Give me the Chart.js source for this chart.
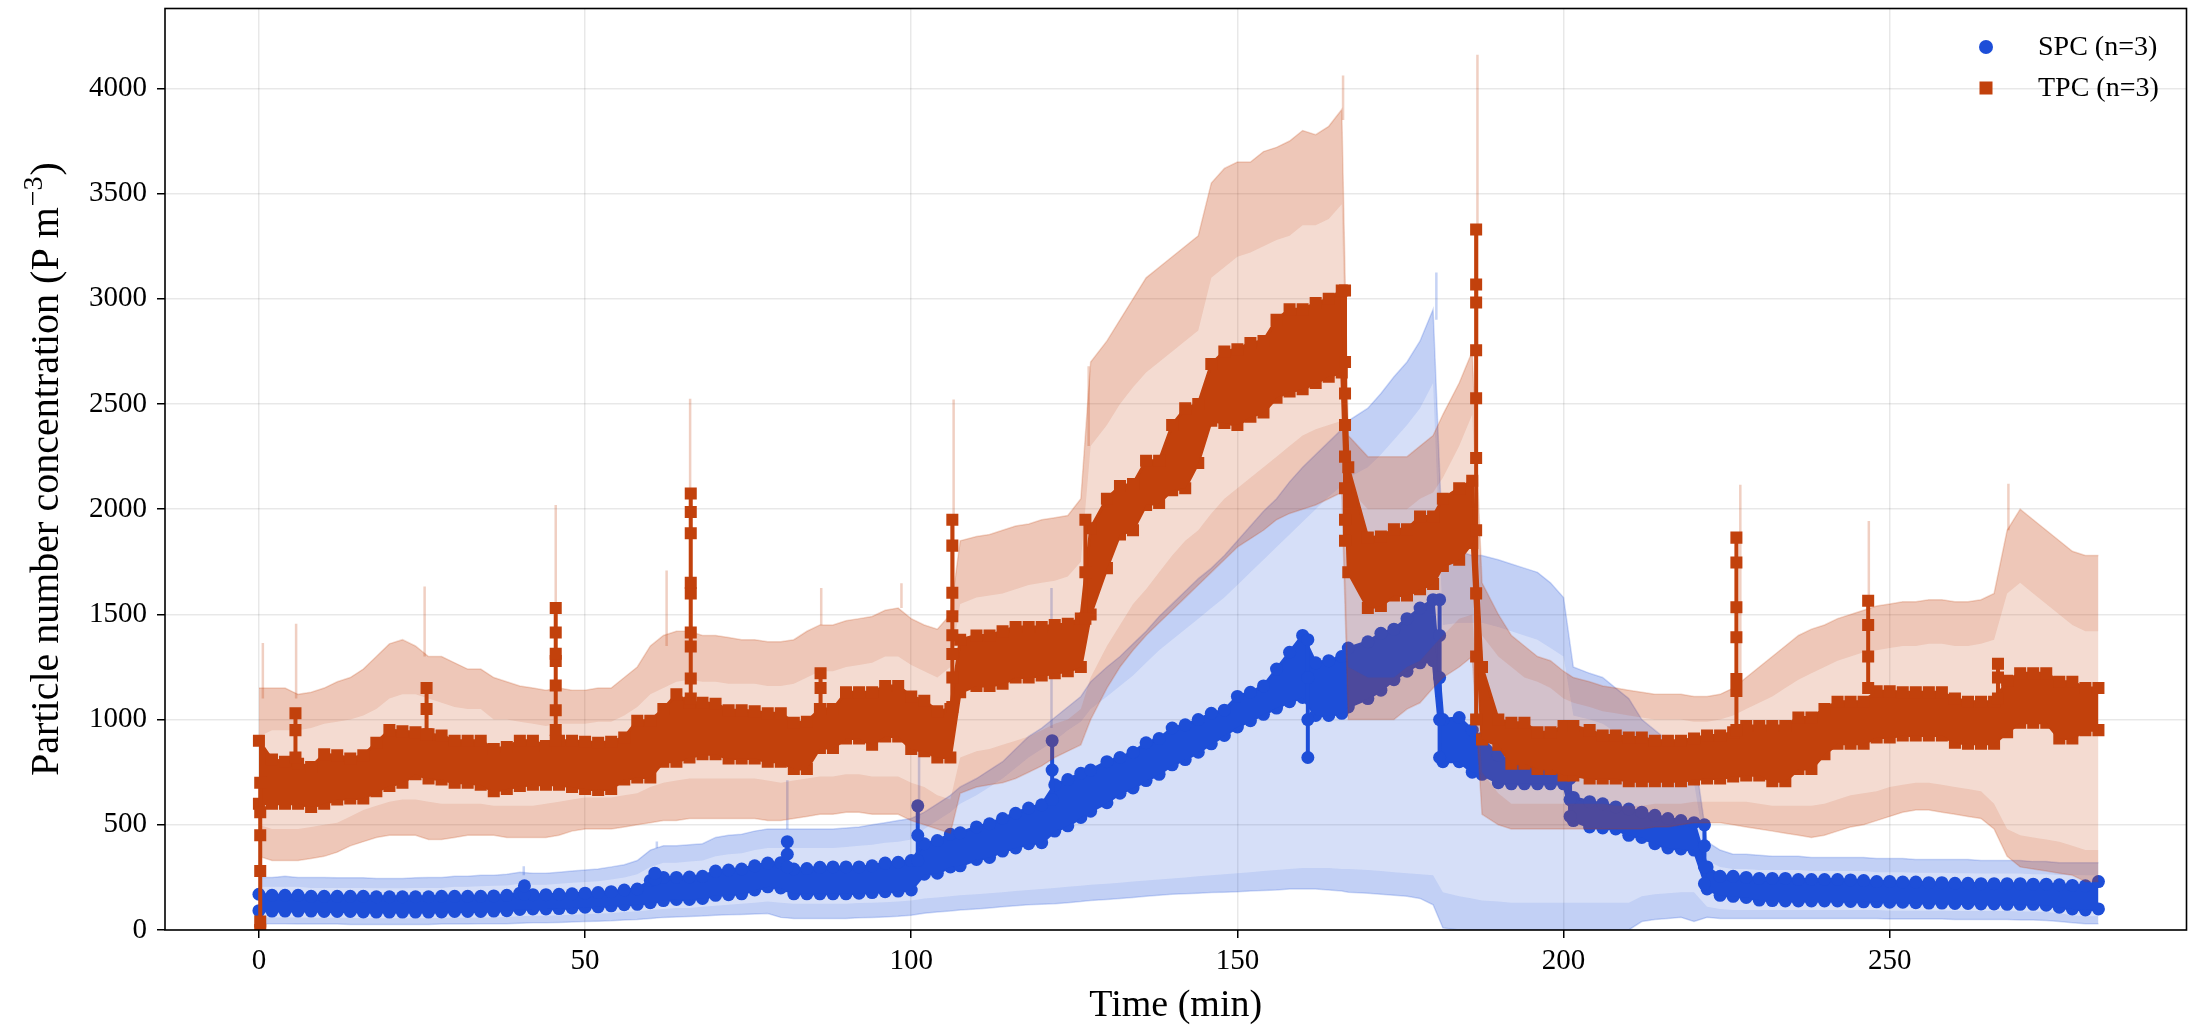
<!DOCTYPE html>
<html>
<head>
<meta charset="utf-8">
<script src="https://cdn.jsdelivr.net/npm/chart.js@4.4.1/dist/chart.umd.min.js"></script>
<style>
  html, body { margin: 0; padding: 0; background: #fff; }
  #c { display: block; }
</style>
</head>
<body>
<canvas id="c" width="2195" height="1026"></canvas>
<script>
// time axis, minutes (about 2-min sampling, denser right after the jumps)
const TIME = [
  0, 2, 4, 6, 8, 10, 12, 14, 16, 18,
  20, 22, 24, 26, 28, 30, 32, 34, 36, 38,
  40, 42, 44, 46, 48, 50, 52, 54, 56, 58,
  60, 62, 64, 66, 68, 70, 72, 74, 76, 78,
  80, 82, 84, 86, 88, 90, 92, 94, 96, 98,
  100, 102, 104, 106, 107.5, 110, 112, 114, 116, 118,
  120, 122, 124, 126, 127.5, 130, 132, 134, 136, 138,
  140, 142, 144, 146, 148, 150, 152, 154, 156, 158,
  160, 162, 164, 166, 167, 170, 172, 174, 176, 178,
  180, 181.5, 184, 186, 187.5, 190, 192, 194, 196, 198,
  200, 201.5, 204, 206, 208, 210, 212, 214, 216, 218,
  220, 222, 224, 226, 228, 230, 232, 234, 236, 238,
  240, 242, 244, 246, 248, 250, 252, 254, 256, 258,
  260, 262, 264, 266, 268, 270, 272, 274, 276, 278,
  280, 282
];

const X_TICKS = [0, 50, 100, 150, 200, 250];
const Y_TICKS = [0, 500, 1000, 1500, 2000, 2500, 3000, 3500, 4000];

// SPC: spread of the mean markers (upper / lower edge)
const spcHi = [
  170, 165, 165, 165, 160, 160, 160, 160, 160, 158,
  158, 158, 158, 158, 160, 160, 160, 160, 162, 165,
  175, 168, 168, 170, 172, 175, 178, 182, 190, 195,
  235, 250, 250, 252, 255, 280, 285, 290, 305, 318,
  320, 290, 292, 298, 300, 300, 300, 305, 318, 322,
  330, 410, 425, 455, 462, 490, 505, 530, 555, 580,
  595, 690, 715, 745, 760, 800, 820, 845, 890, 910,
  960, 975, 1000, 1030, 1045, 1110, 1130, 1160, 1240, 1320,
  1400, 1270, 1280, 1300, 1340, 1370, 1410, 1430, 1480, 1530,
  1570, 1000, 1010, 950, 910, 830, 800, 790, 770, 755,
  745, 630, 610, 600, 585, 575, 560, 545, 530, 520,
  510, 300, 255, 255, 250, 245, 245, 245, 240, 240,
  240, 240, 238, 235, 230, 230, 228, 228, 225, 225,
  222, 222, 220, 220, 220, 220, 218, 218, 215, 212,
  210, 230
];
const spcLo = [
  92, 90, 90, 90, 90, 88, 88, 88, 86, 85,
  85, 85, 85, 85, 86, 88, 88, 88, 90, 92,
  98, 100, 100, 102, 105, 108, 110, 115, 120, 122,
  130, 140, 145, 145, 150, 165, 168, 172, 190, 205,
  200, 172, 172, 172, 172, 172, 175, 178, 182, 185,
  190, 265, 270, 300, 305, 335, 345, 375, 390, 410,
  415, 470, 495, 535, 565, 605, 650, 675, 710, 740,
  785, 810, 845, 885, 925, 965, 995, 1025, 1055, 1085,
  1105, 1020, 1020, 1030, 1060, 1100, 1140, 1190, 1230, 1270,
  1280, 800, 800, 750, 740, 700, 695, 695, 695, 695,
  695, 520, 490, 485, 480, 450, 440, 410, 390, 385,
  380, 195, 165, 160, 155, 142, 140, 138, 138, 138,
  138, 138, 136, 134, 134, 132, 132, 130, 128, 128,
  126, 126, 124, 124, 122, 122, 122, 118, 108, 100,
  95, 100
];
// SPC spread band: outer and inner edge of the noisy upper / lower bound
const spcUpOut = [
  250, 250, 255, 250, 250, 250, 248, 248, 248, 245,
  245, 245, 248, 250, 250, 255, 255, 260, 260, 265,
  275, 270, 270, 275, 280, 285, 290, 300, 310, 330,
  380, 400, 400, 405, 410, 440, 450, 455, 470, 480,
  480, 480, 480, 480, 480, 485, 490, 500, 510, 520,
  530, 560, 600, 640, 680, 720, 760, 800, 860, 920,
  960, 1010, 1060, 1110, 1180, 1250, 1300, 1360, 1420, 1490,
  1550, 1610, 1670, 1720, 1780, 1850, 1920, 1990, 2050, 2130,
  2200, 2260, 2320, 2380, 2420, 2480, 2550, 2630, 2700, 2800,
  2950, 1800, 1800, 1780, 1780, 1760, 1740, 1720, 1700, 1650,
  1580, 1250, 1220, 1200, 1150, 1100, 1000, 950, 900, 870,
  850, 420, 380, 360, 360, 355, 350, 350, 350, 345,
  345, 345, 345, 345, 340, 340, 340, 335, 335, 335,
  335, 335, 330, 330, 330, 330, 325, 325, 320, 320,
  320, 320
];
const spcUpIn = [
  205, 205, 205, 205, 200, 200, 200, 200, 200, 198,
  198, 198, 200, 200, 200, 205, 205, 208, 210, 212,
  220, 215, 215, 220, 225, 228, 232, 240, 250, 265,
  300, 320, 320, 325, 330, 350, 360, 365, 380, 390,
  390, 390, 390, 390, 390, 395, 400, 405, 415, 420,
  430, 480, 520, 560, 600, 640, 680, 720, 770, 820,
  860, 900, 950, 990, 1050, 1110, 1160, 1210, 1270, 1330,
  1380, 1430, 1480, 1530, 1580, 1640, 1700, 1760, 1820, 1880,
  1940, 2000, 2060, 2110, 2150, 2200, 2260, 2330, 2400, 2480,
  2600, 1450, 1460, 1460, 1460, 1440, 1420, 1400, 1380, 1340,
  1300, 1020, 1000, 980, 940, 900, 820, 780, 750, 720,
  700, 330, 300, 290, 290, 285, 285, 285, 285, 280,
  280, 280, 280, 280, 275, 275, 275, 272, 272, 272,
  270, 270, 268, 268, 268, 268, 265, 265, 262, 262,
  260, 260
];
const spcLowIn = [
  60, 60, 60, 60, 58, 58, 58, 58, 56, 56,
  56, 56, 56, 56, 58, 58, 58, 60, 60, 62,
  65, 68, 68, 70, 72, 75, 78, 80, 85, 88,
  95, 100, 105, 105, 110, 115, 120, 125, 130, 135,
  130, 125, 125, 125, 125, 125, 128, 130, 132, 135,
  140, 150, 155, 160, 165, 170, 175, 180, 185, 190,
  195, 200, 205, 210, 215, 220, 225, 230, 235, 240,
  245, 250, 255, 260, 265, 270, 275, 280, 285, 290,
  295, 295, 295, 290, 290, 285, 280, 275, 270, 265,
  260, 180, 160, 150, 140, 135, 130, 130, 130, 130,
  130, 130, 130, 130, 130, 130, 160, 170, 175, 180,
  180, 110, 100, 95, 95, 95, 95, 95, 95, 95,
  95, 95, 95, 95, 95, 92, 92, 92, 92, 92,
  90, 90, 90, 90, 90, 88, 88, 85, 80, 70,
  65, 65
];
const spcLowOut = [
  30, 30, 30, 28, 28, 28, 28, 26, 26, 26,
  26, 26, 26, 26, 28, 28, 28, 30, 30, 30,
  32, 34, 34, 36, 38, 40, 42, 44, 48, 50,
  55, 60, 62, 64, 66, 70, 72, 74, 76, 78,
  60, 55, 55, 55, 55, 55, 58, 60, 62, 65,
  70, 80, 85, 90, 95, 100, 105, 110, 115, 120,
  122, 125, 130, 135, 140, 145, 150, 155, 160, 165,
  170, 172, 175, 178, 180, 182, 185, 188, 190, 195,
  195, 195, 190, 185, 180, 175, 170, 165, 160, 150,
  120, 10, 0, 0, 0, 0, 0, 0, 0, 0,
  0, 0, 0, 0, 0, 0, 40, 50, 55, 60,
  40, 60, 55, 55, 55, 55, 55, 55, 55, 55,
  55, 55, 55, 55, 55, 52, 52, 52, 52, 52,
  50, 50, 50, 50, 50, 48, 48, 45, 40, 35,
  30, 30
];

// TPC: spread of the mean markers
const tpcHi = [
  900, 810, 800, 790, 775, 835, 830, 815, 830, 890,
  950, 945, 940, 930, 925, 900, 900, 900, 860, 870,
  900, 900, 875, 900, 900, 895, 890, 895, 915, 995,
  995, 1050, 1120, 1080, 1080, 1075, 1045, 1045, 1040, 1030,
  1030, 985, 990, 1050, 1050, 1130, 1130, 1130, 1160, 1160,
  1110, 1090, 1040, 1050, 1380, 1400, 1400, 1420, 1440, 1440,
  1440, 1450, 1455, 1480, 1910, 2050, 2110, 2120, 2230, 2230,
  2400, 2480, 2500, 2690, 2750, 2760, 2790, 2800, 2900, 2950,
  2950, 2980, 3000, 3040, 2200, 1865, 1870, 1905, 1905, 1965,
  1965, 2050, 2100, 2135, 1250, 1000, 985, 985, 940, 940,
  970, 970, 950, 925, 925, 915, 915, 900, 900, 900,
  910, 925, 925, 940, 970, 970, 970, 970, 1010, 1010,
  1050, 1085, 1085, 1085, 1135, 1135, 1130, 1130, 1130, 1130,
  1100, 1085, 1085, 1085, 1185, 1220, 1220, 1220, 1180, 1180,
  1150, 1150
];
const tpcLo = [
  600, 600, 600, 600, 585, 600, 620, 625, 625, 660,
  685, 700, 740, 720, 715, 700, 700, 690, 660, 670,
  685, 690, 690, 690, 680, 670, 665, 670, 715, 725,
  725, 800, 800, 820, 835, 835, 815, 815, 815, 800,
  800, 765, 765, 865, 865, 910, 910, 880, 920, 920,
  860, 850, 820, 820, 1130, 1160, 1160, 1170, 1200, 1200,
  1210, 1220, 1230, 1250, 1500, 1720, 1880, 1900, 2020, 2030,
  2090, 2100, 2220, 2420, 2410, 2400, 2440, 2460, 2530, 2560,
  2570, 2600, 2630, 2650, 1700, 1530, 1540, 1590, 1590, 1620,
  1645, 1730, 1760, 1840, 905, 880, 790, 790, 765, 765,
  735, 735, 720, 720, 720, 707, 707, 707, 707, 707,
  715, 720, 720, 730, 735, 735, 707, 707, 765, 765,
  835, 885, 885, 885, 915, 915, 925, 925, 925, 925,
  890, 885, 885, 885, 940, 985, 985, 985, 910, 910,
  950, 950
];
// TPC spread band
const tpcUpOut = [
  1150, 1150, 1150, 1120, 1130, 1150, 1180, 1200, 1240, 1300,
  1360, 1380, 1350, 1300, 1300, 1270, 1240, 1240, 1200, 1180,
  1160, 1150, 1140, 1150, 1140, 1140, 1150, 1150, 1200, 1250,
  1350, 1400, 1420, 1420, 1400, 1400, 1390, 1380, 1380, 1370,
  1370, 1380, 1420, 1450, 1450, 1470, 1480, 1490, 1520, 1530,
  1480, 1450, 1430, 1500, 1850, 1870, 1880, 1900, 1920, 1930,
  1950, 1960, 1970, 2050, 2700, 2800, 2900, 3000, 3100, 3150,
  3200, 3250, 3300, 3550, 3620, 3650, 3650, 3700, 3720, 3750,
  3800, 3780, 3820, 3900, 2350, 2250, 2250, 2250, 2250, 2300,
  2350, 2450, 2600, 2750, 1650, 1500, 1400, 1350, 1300, 1280,
  1230, 1200, 1180, 1160, 1150, 1140, 1130, 1120, 1120, 1120,
  1110, 1110, 1120, 1150, 1200, 1250, 1300, 1350, 1400, 1430,
  1450, 1480, 1500, 1520, 1540, 1550, 1560, 1560, 1570, 1570,
  1560, 1560, 1570, 1600, 1900, 2000, 1950, 1900, 1850, 1800,
  1780, 1780
];
const tpcUpIn = [
  920, 950, 950, 950, 960, 980, 990, 1000, 1020, 1050,
  1100, 1120, 1120, 1100, 1080, 1060, 1050, 1050, 1000, 1000,
  990, 980, 970, 980, 980, 980, 990, 990, 1020, 1060,
  1120, 1150, 1180, 1190, 1180, 1180, 1170, 1170, 1170, 1160,
  1160, 1170, 1200, 1230, 1230, 1250, 1260, 1270, 1300, 1300,
  1260, 1230, 1200, 1250, 1550, 1580, 1590, 1600, 1620, 1640,
  1650, 1660, 1680, 1750, 2300, 2400, 2500, 2580, 2650, 2700,
  2750, 2800, 2850, 3100, 3150, 3200, 3220, 3250, 3280, 3300,
  3350, 3350, 3380, 3450, 2100, 2000, 2000, 2000, 2000, 2050,
  2080, 2150, 2300, 2450, 1400, 1300, 1250, 1200, 1180, 1150,
  1100, 1080, 1060, 1040, 1030, 1020, 1010, 1000, 1000, 1000,
  990, 990, 1000, 1020, 1050, 1080, 1110, 1150, 1190, 1220,
  1250, 1280, 1300, 1320, 1330, 1340, 1350, 1350, 1360, 1360,
  1350, 1350, 1360, 1380, 1600, 1650, 1600, 1550, 1500, 1450,
  1420, 1420
];
const tpcLowIn = [
  500, 480, 480, 480, 490, 500, 510, 540, 570, 590,
  610, 620, 620, 610, 600, 600, 600, 600, 590, 590,
  590, 590, 600, 610, 620, 630, 630, 630, 640, 650,
  680, 700, 710, 720, 720, 720, 720, 720, 720, 710,
  700, 710, 720, 730, 730, 740, 740, 730, 730, 730,
  700, 680, 640, 620, 820, 850, 860, 880, 900, 920,
  950, 980, 1000, 1050, 1200, 1350, 1450, 1550, 1620, 1700,
  1780, 1850, 1900, 1980, 2050, 2100, 2150, 2200, 2250, 2300,
  2350, 2380, 2400, 2420, 1250, 1200, 1200, 1200, 1250, 1280,
  1350, 1400, 1480, 1500, 750, 650, 600, 600, 600, 600,
  600, 600, 600, 600, 590, 590, 590, 600, 600, 600,
  610, 610, 610, 610, 610, 600, 590, 590, 590, 590,
  600, 620, 640, 650, 660, 680, 690, 700, 700, 690,
  680, 670, 660, 600, 480, 450, 440, 430, 420, 400,
  380, 380
];
const tpcLowOut = [
  350, 330, 330, 330, 340, 350, 370, 400, 420, 440,
  450, 450, 450, 430, 430, 440, 450, 450, 450, 440,
  440, 440, 440, 450, 470, 480, 480, 480, 490, 500,
  510, 520, 520, 530, 530, 530, 530, 530, 530, 520,
  520, 530, 540, 550, 550, 560, 560, 550, 550, 550,
  520, 500, 480, 460, 650, 680, 690, 700, 720, 750,
  780, 820, 850, 880, 1000, 1150, 1250, 1330, 1400, 1460,
  1520, 1580, 1640, 1700, 1760, 1820, 1860, 1900, 1950, 1980,
  2000, 2020, 2050, 2080, 1000, 1000, 1000, 1000, 1050, 1080,
  1150, 1200, 1250, 1300, 550, 500, 480, 480, 480, 480,
  480, 480, 480, 480, 480, 480, 480, 490, 490, 500,
  510, 510, 510, 500, 490, 480, 470, 460, 450, 440,
  450, 470, 490, 500, 520, 540, 560, 570, 570, 560,
  550, 540, 530, 480, 350, 300, 290, 280, 270, 260,
  230, 230
];

// short bursts drawn as vertical columns of markers
const tpcSpikeTimes = [0.2, 5.6, 25.7, 45.5, 66.2, 86.1, 106.3, 126.7, 166.5, 186.6, 226.5, 246.7, 266.6];
const tpcSpikeValues = [
  [0, 40, 280, 450, 560, 700],
  [820, 950, 1030],
  [930, 1050, 1150],
  [900, 951, 1044, 1162, 1279, 1313, 1414, 1530],
  [1100, 1195, 1347, 1414, 1600, 1650, 1886, 1987, 2075],
  [1050, 1150, 1220],
  [1060, 1200, 1312, 1401, 1491, 1603, 1827, 1950],
  [1480, 1700, 1950],
  [3040, 2700, 2550, 2400, 2250, 2100, 1950, 1850],
  [1000, 1300, 1600, 1900, 2244, 2528, 2756, 2983, 3068, 3330],
  [950, 1136, 1193, 1392, 1534, 1747, 1865],
  [1150, 1300, 1450, 1565],
  [1100, 1200, 1265]
];
const spcSpikeTimes = [40.7, 60.7, 81.0, 101.0, 121.6, 160.8, 181.0, 201.0, 221.6];
const spcSpikeValues = [
  [170, 210],
  [240, 270],
  [300, 360, 420],
  [330, 450, 590],
  [620, 760, 900],
  [1380, 1200, 1000, 820],
  [1570, 1400, 1200, 1000, 820],
  [720, 620, 540],
  [500, 400, 300, 220]
];
// thin excursions of the spread band
const tpcBandSpikeTimes = [0.6, 5.7, 25.4, 45.5, 62.5, 66.1, 86.2, 98.5, 106.5, 127.2, 166.2, 186.8, 227.1, 246.8, 268.2];
const tpcBandSpikeBase = [1100, 1100, 1300, 1150, 1350, 1420, 1450, 1530, 1500, 2300, 3850, 2750, 1200, 1520, 1900];
const tpcBandSpikePeak = [1364, 1456, 1633, 2020, 1709, 2525, 1625, 1648, 2522, 2679, 4062, 4160, 2116, 1944, 2121];
const spcBandSpikeTimes = [40.6, 61.0, 81.0, 101.2, 121.5, 180.5];
const spcBandSpikeBase = [260, 390, 480, 530, 960, 2900];
const spcBandSpikePeak = [303, 421, 712, 910, 1625, 3125];

const SPC_RGB = '29, 78, 216';
const TPC_RGB = '194, 65, 12';
const SERIF = "'Liberation Serif', 'Times New Roman', 'DejaVu Serif', serif";

function rgba(rgb, a) { return `rgba(${rgb}, ${a})`; }
function series(values) { return TIME.map((t, i) => ({ x: t, y: values[i] })); }
function column(t, values) { return values.map((v) => ({ x: t, y: v })); }

const datasets = [];
function add(ds) {
  datasets.push(Object.assign({ pointRadius: 0, borderWidth: 0, fill: false, tension: 0 }, ds));
  return datasets.length - 1;
}

function addBand(rgb, lowOut, upOut, upIn, lowIn, baseAlpha, noiseAlpha) {
  const base = add({ data: series(lowOut), borderColor: rgba(rgb, 0.2), borderWidth: 1.5 });
  const top = add({
    data: series(upOut), fill: base, backgroundColor: rgba(rgb, baseAlpha),
    borderColor: rgba(rgb, 0.2), borderWidth: 1.5,
  });
  add({ data: series(upIn), fill: top, backgroundColor: rgba(rgb, noiseAlpha) });
  add({ data: series(lowIn), fill: base, backgroundColor: rgba(rgb, noiseAlpha) });
}

function addThinSpikes(rgb, times, base, peak) {
  times.forEach((t, k) => add({
    data: [{ x: t, y: base[k] }, { x: t, y: peak[k] }],
    borderColor: rgba(rgb, 0.25), borderWidth: 2.5,
  }));
}

function markerStyle(rgb, style, radius) {
  return {
    borderColor: rgba(rgb, 1), borderWidth: 3,
    pointStyle: style, pointRadius: radius,
    pointBackgroundColor: rgba(rgb, 1), pointBorderWidth: 0,
  };
}

function addCore(rgb, lo, hi, style, radius) {
  const l = add(Object.assign({ data: series(lo) }, markerStyle(rgb, style, radius)));
  add(Object.assign({ data: series(hi), fill: l, backgroundColor: rgba(rgb, 1) }, markerStyle(rgb, style, radius)));
}

function addColumns(rgb, times, values, style, radius) {
  times.forEach((t, k) => add(Object.assign(
    { data: column(t, values[k]) },
    markerStyle(rgb, style, radius),
    { borderWidth: 4 }
  )));
}

// SPC first (underneath), TPC on top
addBand(SPC_RGB, spcLowOut, spcUpOut, spcUpIn, spcLowIn, 0.18, 0.11);
addThinSpikes(SPC_RGB, spcBandSpikeTimes, spcBandSpikeBase, spcBandSpikePeak);
addCore(SPC_RGB, spcLo, spcHi, 'circle', 6.5);
addColumns(SPC_RGB, spcSpikeTimes, spcSpikeValues, 'circle', 6.5);

addBand(TPC_RGB, tpcLowOut, tpcUpOut, tpcUpIn, tpcLowIn, 0.19, 0.13);
addThinSpikes(TPC_RGB, tpcBandSpikeTimes, tpcBandSpikeBase, tpcBandSpikePeak);
addCore(TPC_RGB, tpcLo, tpcHi, 'rect', 8.5);
addColumns(TPC_RGB, tpcSpikeTimes, tpcSpikeValues, 'rect', 8.5);

// first dataset at the bottom of the stack
datasets.forEach((d, i) => { d.order = -i; });

const LEGEND = [
  { label: 'SPC (n=3)', rgb: SPC_RGB, shape: 'circle' },
  { label: 'TPC (n=3)', rgb: TPC_RGB, shape: 'rect' },
];

const decor = {
  id: 'decor',
  afterDraw(chart) {
    const { ctx, chartArea: a } = chart;
    ctx.save();

    // axes frame
    ctx.strokeStyle = '#000';
    ctx.lineWidth = 1.6;
    ctx.strokeRect(a.left, a.top, a.right - a.left, a.bottom - a.top);

    // legend, upper right inside the axes
    ctx.font = `28px ${SERIF}`;
    ctx.textBaseline = 'middle';
    ctx.textAlign = 'left';
    LEGEND.forEach((item, i) => {
      const y = 47 + i * 41;
      ctx.fillStyle = rgba(item.rgb, 1);
      if (item.shape === 'circle') {
        ctx.beginPath();
        ctx.arc(1986, y, 7, 0, Math.PI * 2);
        ctx.fill();
      } else {
        ctx.fillRect(1979.5, y - 6.5, 13, 13);
      }
      ctx.fillStyle = '#000';
      ctx.fillText(item.label, 2038, y + 1);
    });

    // x title
    ctx.font = `38px ${SERIF}`;
    ctx.textAlign = 'center';
    ctx.textBaseline = 'alphabetic';
    ctx.fillText('Time (min)', (a.left + a.right) / 2, 1016);

    // y title with superscript
    const main = 'Particle number concentration (P m';
    const sup = '\u22123';
    const close = ')';
    ctx.font = `40px ${SERIF}`;
    const wMain = ctx.measureText(main).width;
    const wClose = ctx.measureText(close).width;
    ctx.font = `28px ${SERIF}`;
    const wSup = ctx.measureText(sup).width;
    const total = wMain + wSup + wClose;
    ctx.translate(58, 470);
    ctx.rotate(-Math.PI / 2);
    ctx.textAlign = 'left';
    const x0 = -total / 2;
    ctx.font = `40px ${SERIF}`;
    ctx.fillText(main, x0, 0);
    ctx.font = `28px ${SERIF}`;
    ctx.fillText(sup, x0 + wMain + 1, -16);
    ctx.font = `40px ${SERIF}`;
    ctx.fillText(close, x0 + wMain + wSup + 2, 0);

    ctx.restore();
  },
};

const gridStyle = {
  color: 'rgba(0, 0, 0, 0.09)',
  lineWidth: 1.5,
  tickColor: '#000',
  tickLength: 8,
  tickWidth: 1.5,
  drawTicks: true,
};

new Chart(document.getElementById('c'), {
  type: 'line',
  data: { datasets },
  options: {
    responsive: false,
    devicePixelRatio: 1,
    animation: false,
    events: [],
    parsing: false,
    layout: { padding: { top: 7, right: 8, left: 0, bottom: 0 } },
    plugins: {
      legend: { display: false },
      tooltip: { enabled: false },
      filler: { propagate: false },
    },
    scales: {
      x: {
        type: 'linear',
        min: -14.4,
        max: 295.5,
        afterBuildTicks: (s) => { s.ticks = X_TICKS.map((v) => ({ value: v })); },
        afterFit: (s) => { s.height = 96; s.paddingLeft = 0; s.paddingRight = 0; },
        grid: gridStyle,
        border: { display: false },
        ticks: {
          color: '#000',
          font: { family: SERIF, size: 29 },
          padding: 6,
          maxRotation: 0,
          autoSkip: false,
          callback: (v) => String(v),
        },
      },
      y: {
        type: 'linear',
        min: 0,
        max: 4380,
        afterBuildTicks: (s) => { s.ticks = Y_TICKS.map((v) => ({ value: v })); },
        afterFit: (s) => { s.width = 165; s.paddingTop = 0; s.paddingBottom = 0; },
        grid: gridStyle,
        border: { display: false },
        ticks: {
          color: '#000',
          font: { family: SERIF, size: 29 },
          padding: 10,
          autoSkip: false,
          callback: (v) => String(v),
        },
      },
    },
  },
  plugins: [decor],
});
</script>
</body>
</html>
